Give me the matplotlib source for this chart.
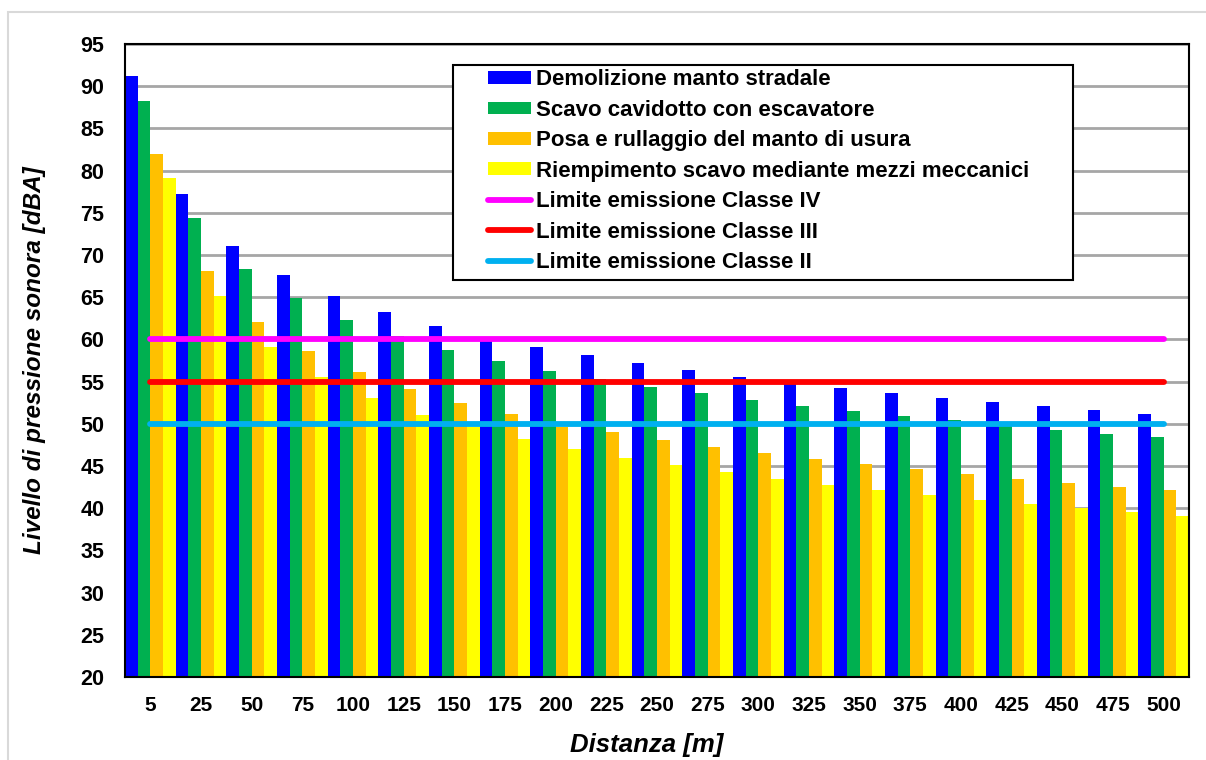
import matplotlib
matplotlib.use('Agg')
import matplotlib.pyplot as plt
import numpy as np
from matplotlib.patches import Rectangle

plt.rcParams['font.family'] = ['Liberation Sans', 'DejaVu Sans']

distanze = ['5', '25', '50', '75', '100', '125', '150', '175', '200', '225', '250',
            '275', '300', '325', '350', '375', '400', '425', '450', '475', '500']

demolizione = [91.2, 77.2, 71.1, 67.6, 65.2, 63.2, 61.6, 60.3, 59.1, 58.1, 57.2,
               56.4, 55.6, 54.8, 54.3, 53.7, 53.1, 52.6, 52.1, 51.6, 51.2]
scavo = [88.3, 74.4, 68.4, 64.9, 62.3, 60.4, 58.8, 57.5, 56.3, 55.3, 54.4,
         53.6, 52.8, 52.1, 51.5, 50.9, 50.4, 49.8, 49.3, 48.8, 48.4]
posa = [82.0, 68.1, 62.1, 58.6, 56.1, 54.1, 52.5, 51.2, 49.6, 49.0, 48.1,
        47.2, 46.5, 45.8, 45.2, 44.6, 44.0, 43.5, 43.0, 42.5, 42.1]
riempimento = [79.1, 65.1, 59.1, 55.5, 53.1, 51.1, 49.6, 48.2, 47.0, 46.0, 45.1,
               44.3, 43.5, 42.8, 42.2, 41.6, 41.0, 40.5, 40.0, 39.5, 39.1]

limite_IV = [60] * len(distanze)
limite_III = [55] * len(distanze)
limite_II = [50] * len(distanze)

serie = [
    ('Demolizione manto stradale', demolizione, '#0000FF'),
    ('Scavo cavidotto con escavatore', scavo, '#00B050'),
    ('Posa e rullaggio del manto di usura', posa, '#FFC000'),
    ('Riempimento scavo mediante mezzi meccanici', riempimento, '#FFFF00'),
]
limiti = [
    ('Limite emissione Classe IV', limite_IV, '#FF00FF'),
    ('Limite emissione Classe III', limite_III, '#FF0000'),
    ('Limite emissione Classe II', limite_II, '#00B0F0'),
]

fig = plt.figure(figsize=(12.06, 7.6), dpi=100)
ax = fig.add_axes([125/1206, 1-677/760, (1189-125)/1206, (677-44)/760])

x = np.arange(len(distanze))
w = 0.25
handles = []
for k, (nome, vals, col) in enumerate(serie):
    b = ax.bar(x + (k - 1.5) * w, vals, width=w, color=col, edgecolor='none',
               label=nome, zorder=2)
    handles.append(b)
for nome, vals, col in limiti:
    l, = ax.plot(x, vals, color=col, lw=4.2, solid_capstyle='round', label=nome, zorder=3)
    handles.append(l)

ax.set_xlim(-0.5, len(distanze) - 0.5)
ax.set_ylim(20, 95)
ax.set_yticks(np.arange(20, 96, 5))
ax.set_xticks(x)
ax.set_xticklabels(distanze)
ax.yaxis.grid(True, color='#a6a6a6', lw=2.0, zorder=0)
ax.set_axisbelow(True)
ax.tick_params(axis='y', length=0, pad=15, labelsize=15.5)
ax.tick_params(axis='x', length=0, pad=14, labelsize=15)
for lab in ax.get_xticklabels() + ax.get_yticklabels():
    lab.set_fontweight('bold')
for s in ax.spines.values():
    s.set_color('black')
    s.set_linewidth(1.5)

ax.set_ylabel('Livello di pressione sonora [dBA]', fontsize=17.5, fontweight='bold',
              fontstyle='italic')
ax.yaxis.set_label_coords(-0.074, 0.5)
ax.set_xlabel('Distanza [m]', fontsize=18.5, fontweight='bold', fontstyle='italic')
ax.xaxis.set_label_coords(0.49, -0.088)

# cornice legenda
ax.add_patch(Rectangle((0.308, 0.627), 0.583, 0.34, transform=ax.transAxes,
                       facecolor='white', edgecolor='black', lw=1.5, zorder=5))
leg = ax.legend(handles=handles, loc='upper left', bbox_to_anchor=(0.329, 0.981),
                frameon=False, prop={'weight': 'bold', 'size': 16},
                handlelength=1.9, handleheight=0.5, handletextpad=0.25,
                labelspacing=0.425, borderpad=0.1)
leg.set_zorder(6)

# bordo esterno
fig.patches.append(Rectangle((8/1206, -0.1), 1.2, 1.1 - 12/760, transform=fig.transFigure,
                             fill=False, edgecolor='#d9d9d9', lw=1.5))

fig.savefig('out.png', dpi=100)
